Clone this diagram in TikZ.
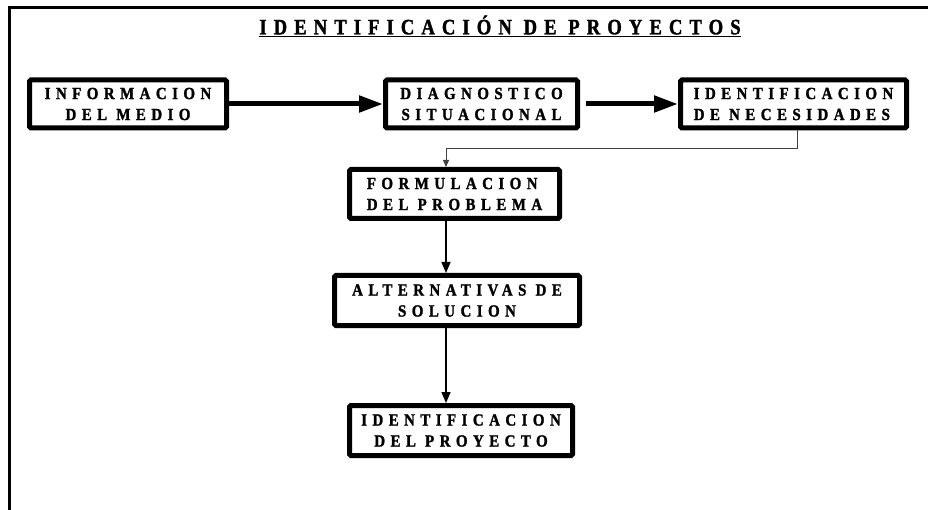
\documentclass[tikz,border=0pt]{standalone}
\usepackage{fontspec}
\setmainfont{Liberation Serif}
\newfontfamily\boxfont[LetterSpace=32,FakeStretch=0.88,FakeBold=1.5]{Liberation Serif}
\newfontfamily\titlefont[LetterSpace=32,FakeStretch=0.85,FakeBold=1.5]{Liberation Serif}
\usetikzlibrary{arrows.meta}
\begin{document}
\begin{tikzpicture}[x=1pt,y=-1pt,
  stepbox/.style={draw=black, line width=5pt, rounded corners=1.5pt, fill=white,
    minimum height=48pt, inner sep=2pt,
    font=\boxfont\bfseries\fontsize{17}{21}\selectfont},
  bigarrow/.style={line width=5pt, -{Triangle[length=24pt,width=16pt]}},
  thinarrow/.style={line width=1.5pt, -{Triangle[length=11pt,width=9pt]}},
  elbow/.style={line width=1pt, draw=black!75, -{Triangle[length=7pt,width=6pt]}}]
\useasboundingbox (0,0) rectangle (928,510);
\fill[white] (0,0) rectangle (928,510);
% frame
\draw[line width=3pt] (9,510) -- (9,8) -- (928,8);
% title
\node (title) at (500,26) {\titlefont\bfseries\fontsize{22}{26}\selectfont\underline{IDENTIFICACIÓN DE PROYECTOS}};
% boxes
\node[stepbox, minimum width=197pt, align=center] (A) at (128,104) {INFORMACION\\DEL MEDIO};
\node[stepbox, minimum width=192pt, align=center] (B) at (481.5,104) {DIAGNOSTICO\\SITUACIONAL};
\node[stepbox, minimum width=226pt, align=left] (C) at (793.5,104) {IDENTIFICACION\\DE NECESIDADES};
\node[stepbox, minimum width=210pt, minimum height=49pt, align=left] (D) at (454.5,194) {FORMULACION\\DEL PROBLEMA};
\node[stepbox, minimum width=245pt, minimum height=50pt, align=center] (E) at (457,300.5) {ALTERNATIVAS DE\\SOLUCION};
\node[stepbox, minimum width=223pt, minimum height=50pt, align=center] (F) at (461,430.5) {IDENTIFICACION\\DEL PROYECTO};
% connectors
\coordinate (vx) at (446,0);
\coordinate (ex) at (797,0);
\coordinate (bend) at (446,149);
\draw[bigarrow] (A) -- (B);
\draw[bigarrow, shorten <=6pt] (B) -- (C);
\draw[elbow] (C.south -| ex) |- (bend) -- (D.north -| vx);
\draw[thinarrow] (D.south -| vx) -- (E.north -| vx);
\draw[thinarrow] (E.south -| vx) -- (F.north -| vx);
\end{tikzpicture}
\end{document}
